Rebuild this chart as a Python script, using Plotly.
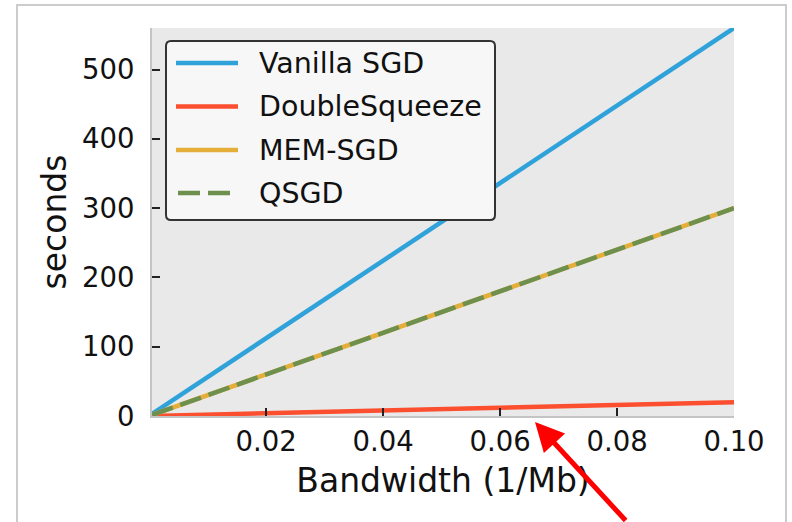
import plotly.graph_objects as go

# Communication time vs. inverse bandwidth
bandwidth = [0.0005, 0.02, 0.04, 0.06, 0.08, 0.10]
vanilla_sgd = [3, 112, 224, 336, 448, 560]
double_squeeze = [0.1, 4, 8, 12, 16, 20]
mem_sgd = [1.5, 60, 120, 180, 240, 300]
qsgd = [1.5, 60, 120, 180, 240, 300]

series_names = ["Vanilla SGD", "DoubleSqueeze", "MEM-SGD", "QSGD"]
series_colors = ["#30a2da", "#fc4f30", "#e5ae38", "#6d904f"]
series_dash = ["solid", "solid", "solid", "22px,8px"]

x_ticks = [0.02, 0.04, 0.06, 0.08, 0.10]
x_tick_text = ["0.02", "0.04", "0.06", "0.08", "0.10"]
y_ticks = [0, 100, 200, 300, 400, 500]

FONT = "DejaVu Sans"
LINE_W = 4.5

# plot-area geometry in pixels (used to place paper-referenced decorations)
W, H = 792, 522
ML, MR, MT, MB = 152, 58, 28, 106
PW, PH = W - ML - MR, H - MT - MB


def px(xp):
    return (xp - ML) / PW


def py(yp):
    return (H - MB - yp) / PH


fig = go.Figure()
for name, ys, col, dash in zip(series_names, [vanilla_sgd, double_squeeze, mem_sgd, qsgd],
                               series_colors, series_dash):
    fig.add_trace(go.Scatter(x=bandwidth, y=ys, mode="lines", name=name,
                             line=dict(color=col, width=LINE_W, dash=dash),
                             showlegend=False))

# legend box with rounded corners
lx0, lx1, ly0, ly1, r = 166, 495, 41, 220, 5
path = (f"M {px(lx0 + r)},{py(ly0)} L {px(lx1 - r)},{py(ly0)} "
        f"Q {px(lx1)},{py(ly0)} {px(lx1)},{py(ly0 + r)} "
        f"L {px(lx1)},{py(ly1 - r)} Q {px(lx1)},{py(ly1)} {px(lx1 - r)},{py(ly1)} "
        f"L {px(lx0 + r)},{py(ly1)} Q {px(lx0)},{py(ly1)} {px(lx0)},{py(ly1 - r)} "
        f"L {px(lx0)},{py(ly0 + r)} Q {px(lx0)},{py(ly0)} {px(lx0 + r)},{py(ly0)} Z")
fig.add_shape(type="path", path=path, xref="paper", yref="paper",
              line=dict(color="#333333", width=2), fillcolor="#f7f7f7", layer="above")

row_y = [63, 106.5, 150, 193]
for name, col, dash, ry in zip(series_names, series_colors, series_dash, row_y):
    x_start, x_end = (178, 230) if dash != "solid" else (176, 238)
    fig.add_shape(type="line", xref="paper", yref="paper",
                  x0=px(x_start), x1=px(x_end), y0=py(ry), y1=py(ry),
                  line=dict(color=col, width=LINE_W, dash=dash), layer="above")
    fig.add_annotation(x=px(257), y=py(ry), xref="paper", yref="paper", text=name,
                       showarrow=False, xanchor="left", yanchor="middle",
                       font=dict(family=FONT, size=28.5, color="#111111"))

# pointer to the DoubleSqueeze curve
fig.add_annotation(x=px(535), y=py(422), xref="paper", yref="paper", text="",
                   showarrow=True, ax=92, ay=112,
                   arrowhead=2, arrowsize=1.15, arrowwidth=5, arrowcolor="#ff0000",
                   standoff=0)

# outer frame
fig.add_shape(type="rect", xref="paper", yref="paper",
              x0=px(17), x1=px(786), y0=py(560), y1=py(5),
              line=dict(color="#cccccc", width=2), fillcolor="rgba(0,0,0,0)", layer="below")

fig.update_layout(
    width=W, height=H,
    margin=dict(l=ML, r=MR, t=MT, b=MB),
    paper_bgcolor="white",
    plot_bgcolor="#e9e9e9",
    font=dict(family=FONT, color="#111111"),
    showlegend=False,
)
fig.update_xaxes(range=[0.0005, 0.1], tickvals=x_ticks, ticktext=x_tick_text,
                 ticks="inside", ticklen=8, tickwidth=2, tickcolor="#222222",
                 showgrid=False, zeroline=False,
                 showline=True, linecolor="#c4c4c4", linewidth=2,
                 tickfont=dict(family=FONT, size=27.5, color="#111111"),
                 title=dict(text="Bandwidth (1/Mb)", font=dict(family=FONT, size=33, color="#111111"),
                            standoff=13))
fig.update_yaxes(range=[0, 560], tickvals=y_ticks,
                 ticks="inside", ticklen=8, tickwidth=2, tickcolor="#222222",
                 showgrid=False, zeroline=False,
                 showline=True, linecolor="#c4c4c4", linewidth=2,
                 tickfont=dict(family=FONT, size=27.5, color="#111111"),
                 ticklabelstandoff=10,
                 title=dict(text="seconds", font=dict(family=FONT, size=33, color="#111111"),
                            standoff=5))

fig.write_html("out.html")
